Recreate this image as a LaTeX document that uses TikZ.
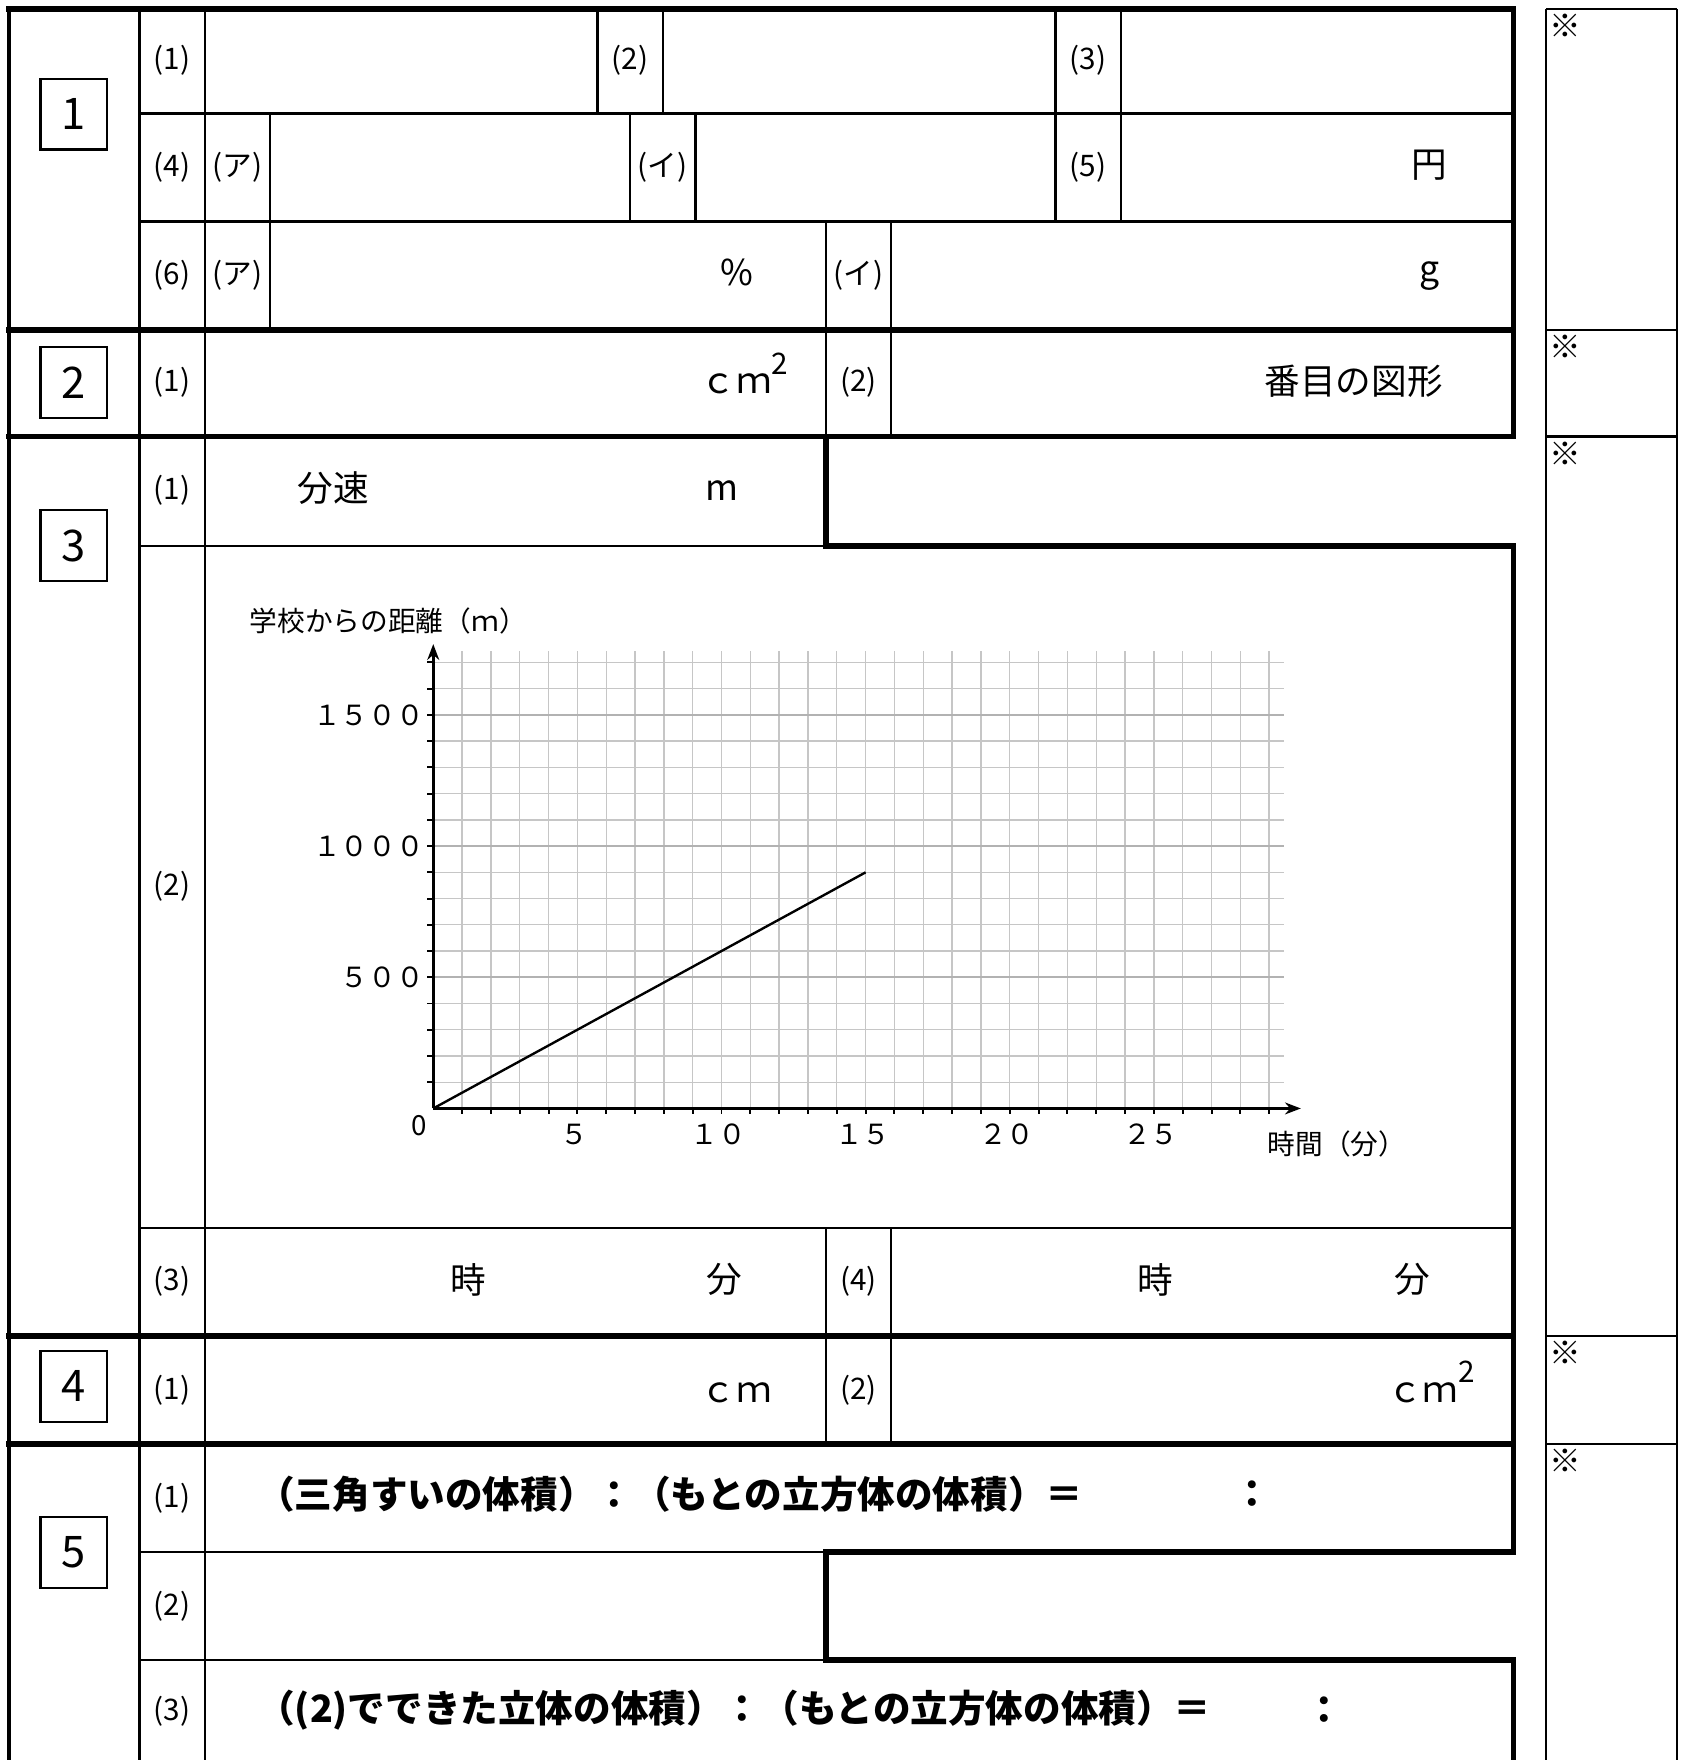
\documentclass[tikz,border=0pt]{standalone}
\usepackage{fontspec}
\setmainfont{Noto Sans CJK JP}
\usetikzlibrary{arrows.meta}

\tikzset{
  heavy/.style={line width=1.45pt, line cap=rect},
  light/.style={line width=0.6pt},
  qlab/.style={font=\fontsize{7.5}{8}\selectfont, inner sep=0pt},
  unit/.style={font=\fontsize{9}{10}\selectfont, inner sep=0pt},
  secbox/.style={draw, line width=0.6pt, minimum width=0.59cm, minimum height=0.63cm, font=\fontsize{11}{12}\selectfont, inner sep=0pt},
  axlab/.style={font=\fontsize{7}{8}\selectfont, inner sep=0pt},
  ratio/.style={font=\fontsize{9.5}{11}\selectfont\bfseries, inner sep=0pt}
}

\newcommand{\sqtwo}{\raisebox{0.55em}{\fontsize{7.5}{8}\selectfont 2}}

\begin{document}
\begin{tikzpicture}[x=0.01cm, y=-0.01cm]
\useasboundingbox (0,0) rectangle (1496,1564);

  % thin rules
  \draw[light] (124,8)--(124,1564);
  \draw[light] (182,8)--(182,1564);
  \draw[light] (124,101)--(1345,101);
  \draw[light] (124,197)--(1345,197);
  \draw[light] (531,8)--(531,101);
  \draw[light] (589,8)--(589,101);
  \draw[light] (938,8)--(938,197);
  \draw[light] (996,8)--(996,197);
  \draw[light] (240,101)--(240,293);
  \draw[light] (560,101)--(560,197);
  \draw[light] (618,101)--(618,197);
  \draw[light] (734,197)--(734,388);
  \draw[light] (792,197)--(792,388);
  \draw[light] (124,485)--(734,485);
  \draw[light] (124,1091)--(1345,1091);
  \draw[light] (734,1091)--(734,1283);
  \draw[light] (792,1091)--(792,1283);
  \draw[light] (124,1379)--(734,1379);
  \draw[light] (124,1475)--(734,1475);

  % heavy rules
  \draw[line width=1pt] (8,8)--(8,1564);
  \draw[heavy] (8,8)--(1345,8)--(1345,388);
  \draw[heavy] (8,293)--(1345,293);
  \draw[heavy] (8,388)--(1345,388);
  \draw[heavy] (734,388)--(734,485)--(1345,485)--(1345,1379)--(734,1379)--(734,1475)--(1345,1475)--(1345,1564);
  \draw[heavy] (8,1187)--(1345,1187);
  \draw[heavy] (8,1283)--(1345,1283);

  % marking column
  \draw[light] (1374,8)--(1374,1564);
  \draw[light] (1490,8)--(1490,1564);
  \foreach \yy in {8,293,388,1187,1283}
    \draw[light] (1374,\yy)--(1490,\yy);
  \foreach \yy/\nm in {23/m1,308/m2,403/m3,1202/m4,1298/m5}
    \node[qlab, font=\fontsize{8}{9}\selectfont] at (1391,\yy) (\nm) {※};

  % section numbers
  \node[secbox] at (65.5,101.5) (sec1) {1};
  \node[secbox] at (65.5,340) (sec2) {2};
  \node[secbox] at (65.5,485) (sec3) {3};
  \node[secbox] at (65.5,1232) (sec4) {4};
  \node[secbox] at (65.5,1379.5) (sec5) {5};

  % question labels
  \node[qlab] at (153,54) (q1a) {(1)};
  \node[qlab] at (560,54) (q1b) {(2)};
  \node[qlab] at (967,54) (q1c) {(3)};
  \node[qlab] at (153,149) (q1d) {(4)};
  \node[qlab] at (211,149) (q1da) {(ア)};
  \node[qlab] at (589,149) (q1db) {(イ)};
  \node[qlab] at (967,149) (q1e) {(5)};
  \node[qlab] at (153,245) (q1f) {(6)};
  \node[qlab] at (211,245) (q1fa) {(ア)};
  \node[qlab] at (763,245) (q1fb) {(イ)};
  \node[qlab] at (153,340) (q2a) {(1)};
  \node[qlab] at (763,340) (q2b) {(2)};
  \node[qlab] at (153,436) (q3a) {(1)};
  \node[qlab] at (153,788) (q3b) {(2)};
  \node[qlab] at (153,1139) (q3c) {(3)};
  \node[qlab] at (763,1139) (q3d) {(4)};
  \node[qlab] at (153,1235) (q4a) {(1)};
  \node[qlab] at (763,1235) (q4b) {(2)};
  \node[qlab] at (153,1331) (q5a) {(1)};
  \node[qlab] at (153,1427) (q5b) {(2)};
  \node[qlab] at (153,1521) (q5c) {(3)};

  % units in the answer cells
  \node[unit] at (1270,147) (yen) {円};
  \node[unit] at (655,242) (pct) {\%};
  \node[unit] at (1270,245) (gram) {g};
  \node[unit, anchor=base west] at (622,350) (area1) {ｃｍ\sqtwo};
  \node[unit] at (1203,339) (fig) {番目の図形};
  \node[unit] at (296,434) (speed) {分速};
  \node[unit] at (642,436) (metre) {m};
  \node[unit] at (416,1137) (hr1) {時};
  \node[unit] at (644,1137) (mn1) {分};
  \node[unit] at (1027,1137) (hr2) {時};
  \node[unit] at (1255,1137) (mn2) {分};
  \node[unit, anchor=base west] at (622,1246) (len4) {ｃｍ};
  \node[unit, anchor=base west] at (1232,1246) (area4) {ｃｍ\sqtwo};
  \node[ratio, anchor=west] at (228,1328) (r1) {（三角すいの体積）：（もとの立方体の体積）＝};
  \node[ratio] at (1113,1328) (r1c) {：};
  \node[ratio, anchor=west] at (228,1520) (r3) {（(2)でできた立体の体積）：（もとの立方体の体積）＝};
  \node[ratio] at (1177,1520) (r3c) {：};

  % graph
  \node[axlab] at (345,552) (ytitle) {学校からの距離（ｍ）};
  \node[axlab] at (1188,1017) (xtitle) {時間（分）};
  \begin{scope}[shift={(385,985)}, x=0.256cm, y=0.233cm]
    \foreach \i in {1,...,29}
      \draw[gray!45, line width=0.35pt] (\i,0)--(\i,17.45);
    \foreach \j in {1,...,17}
      \draw[gray!45, line width=0.35pt] (0,\j)--(29.5,\j);
    \foreach \j in {5,10,15}
      \draw[gray!60, line width=0.4pt] (0,\j)--(29.5,\j);
    \foreach \i in {1,...,29}
      \draw[line width=0.5pt] (\i,0)--(\i,-0.2);
    \foreach \j in {1,...,17}
      \draw[line width=0.5pt] (0,\j)--(-0.2,\j);
    \draw[line width=0.7pt, -{Stealth[length=4pt]}] (0,0)--(30.1,0);
    \draw[line width=0.7pt, -{Stealth[length=4pt]}] (0,0)--(0,17.7);
    \draw[line width=0.6pt] (0,0)--(15,9);
    \node[axlab] at (-0.5,-0.65) (o) {0};
    \foreach \v/\t in {5/５００,10/１０００,15/１５００}
      \node[axlab, anchor=east] at (-0.3,\v) (y\v) {\t};
    \foreach \v/\t in {5/５,10/１０,15/１５,20/２０,25/２５}
      \node[axlab] at (\v-0.1,-1) (x\v) {\t};
  \end{scope}
\end{tikzpicture}
\end{document}
